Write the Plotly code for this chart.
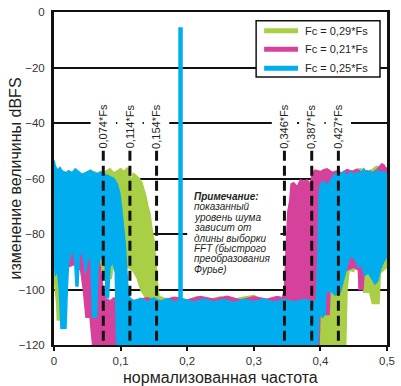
import plotly.graph_objects as go

# ---------------- data ----------------
series_names = ["Fc = 0,29*Fs", "Fc = 0,21*Fs", "Fc = 0,25*Fs"]
series_colors = ["#A8CF45", "#D6429B", "#00AEEF"]

# green (Fc = 0.29*Fs): upper / lower envelope of the noise spectrum, dBFS
green_top_x = [0.000, 0.004, 0.010, 0.020, 0.030, 0.040, 0.050, 0.060, 0.070, 0.078, 0.084, 0.090, 0.096, 0.100, 0.105, 0.110, 0.114, 0.116, 0.119, 0.124, 0.128, 0.132, 0.135, 0.138, 0.141, 0.144, 0.147, 0.150, 0.153, 0.156, 0.158, 0.170, 0.185, 0.200, 0.215, 0.230, 0.250, 0.265, 0.280, 0.300, 0.315, 0.330, 0.350, 0.370, 0.390, 0.405, 0.420, 0.432, 0.435, 0.437, 0.439, 0.443, 0.450, 0.460, 0.470, 0.478, 0.484, 0.490, 0.495, 0.500]
green_top = [-56, -57.5, -57, -58, -57.5, -58.5, -58, -57.5, -58.5, -57.5, -56.5, -58, -57.2, -56.5, -57.5, -56.2, -56.8, -62, -58, -59, -60, -61.5, -64, -66.5, -70, -72.5, -78, -82, -90, -100, -102.5, -103.5, -102.8, -104, -102.5, -103.8, -102.6, -104, -103, -102.2, -104, -103, -103.5, -102.8, -103.5, -102, -101.5, -100.5, -95, -80, -62, -57.5, -57, -56.5, -57.5, -56.8, -55.6, -55.8, -57, -56]
green_bot_x = [0.000, 0.004, 0.005, 0.010, 0.011, 0.016, 0.030, 0.050, 0.070, 0.078, 0.086, 0.090, 0.100, 0.110, 0.118, 0.125, 0.130, 0.140, 0.150, 0.155, 0.438, 0.440, 0.443, 0.450, 0.455, 0.462, 0.465, 0.474, 0.478, 0.488, 0.490, 0.500]
green_bot = [-95, -105, -111, -111, -95, -90, -88, -90, -92, -96, -96, -90, -88, -92, -93, -96, -100, -104, -110, -120, -120, -100, -93, -93.5, -89, -90, -101, -101, -105, -105, -94, -92]

# magenta (Fc = 0.21*Fs)
magenta_top_x = [0.000, 0.004, 0.007, 0.012, 0.020, 0.025, 0.030, 0.040, 0.050, 0.055, 0.058, 0.062, 0.066, 0.070, 0.074, 0.078, 0.085, 0.090, 0.095, 0.100, 0.105, 0.110, 0.120, 0.140, 0.160, 0.180, 0.200, 0.220, 0.240, 0.260, 0.280, 0.300, 0.320, 0.335, 0.343, 0.346, 0.349, 0.351, 0.354, 0.356, 0.360, 0.365, 0.370, 0.375, 0.380, 0.385, 0.388, 0.392, 0.400, 0.405, 0.410, 0.418, 0.425, 0.432, 0.440, 0.448, 0.455, 0.462, 0.470, 0.478, 0.486, 0.492, 0.495, 0.500]
magenta_top = [-57, -57.5, -58.5, -58, -59, -58.3, -59.5, -59, -60, -62, -66, -74, -86, -93, -100, -103.5, -104, -103, -104.5, -103.5, -105, -103, -104, -103, -104.2, -102.8, -103.8, -102.5, -103.5, -102.4, -103.8, -102.6, -103.5, -102.5, -103, -100, -80, -72, -68, -62, -61.5, -63, -60.5, -61, -60.5, -62, -58, -57, -57.5, -56.8, -56.5, -57.8, -57.2, -58, -56.8, -57.5, -56.6, -57.8, -57.2, -58, -56.5, -54.7, -55, -57]
magenta_bot_x = [0.000, 0.003, 0.006, 0.010, 0.020, 0.030, 0.040, 0.044, 0.048, 0.054, 0.058, 0.398, 0.400, 0.405, 0.407, 0.413, 0.415, 0.430, 0.450, 0.457, 0.458, 0.464, 0.466, 0.480, 0.500]
magenta_bot = [-90, -93, -88, -90, -92, -91, -93, -100, -110, -110, -120, -120, -104, -100, -109, -109, -98, -94, -92, -93, -100, -100, -92, -90, -88]

# blue (Fc = 0.25*Fs)
blue_top_x = [0.000, 0.002, 0.005, 0.009, 0.013, 0.018, 0.022, 0.027, 0.032, 0.037, 0.042, 0.048, 0.055, 0.060, 0.065, 0.070, 0.075, 0.080, 0.085, 0.090, 0.095, 0.099, 0.102, 0.107, 0.111, 0.114, 0.120, 0.130, 0.140, 0.150, 0.160, 0.170, 0.180, 0.195, 0.210, 0.225, 0.240, 0.255, 0.270, 0.285, 0.300, 0.315, 0.330, 0.345, 0.360, 0.375, 0.390, 0.394, 0.396, 0.398, 0.400, 0.405, 0.410, 0.415, 0.420, 0.425, 0.430, 0.435, 0.440, 0.445, 0.450, 0.455, 0.460, 0.465, 0.470, 0.475, 0.480, 0.485, 0.490, 0.495, 0.500]
blue_top = [-53.5, -55.5, -57, -56, -57.5, -58, -57.2, -58, -56.5, -57.5, -58.5, -57.8, -57, -58, -58.3, -57.5, -58.5, -58.8, -59.5, -60, -62, -65.5, -71.7, -83.6, -99.5, -103, -104.2, -103.2, -104.5, -103, -104.3, -103.3, -104.5, -103.5, -104.6, -103.4, -104.5, -103.6, -104.8, -103.5, -104.4, -103.4, -104.6, -103.5, -104.5, -103.6, -104.2, -104, -90, -66, -62, -61, -62.5, -60.5, -59, -58, -58.5, -57.5, -59, -57.5, -58.5, -57.8, -58.2, -56.5, -58, -57.3, -58.5, -57, -58, -57.5, -58.5]
blue_bot_x = [0.000, 0.002, 0.005, 0.008, 0.0105, 0.018, 0.020, 0.022, 0.025, 0.028, 0.031, 0.033, 0.036, 0.038, 0.042, 0.045, 0.047, 0.050, 0.055, 0.057, 0.058, 0.064, 0.066, 0.070, 0.074, 0.077, 0.078, 0.082, 0.084, 0.088, 0.092, 0.094, 0.396, 0.398, 0.403, 0.407, 0.408, 0.415, 0.422, 0.430, 0.436, 0.440, 0.444, 0.452, 0.457, 0.462, 0.466, 0.472, 0.477, 0.482, 0.486, 0.490, 0.495, 0.500]
blue_bot = [-88, -95, -93, -100, -114, -114, -100, -90, -88, -85, -90, -98.7, -98.7, -88, -86, -90, -94, -90, -87, -100, -110, -110, -92, -88, -90, -92, -103, -103, -92, -90, -94, -120, -120, -108, -110, -109, -101, -100.5, -102, -101, -96, -92, -88, -89, -92, -91, -95, -94, -96, -98, -97, -93, -90, -88]

# test tone of the blue series
tone_freq = [0.19]
tone_level = [-5.5]
floor_level = -104

# marked frequencies
marker_freqs = [0.074, 0.114, 0.154, 0.346, 0.387, 0.427]
marker_labels = ["0,074*Fs", "0,114*Fs", "0,154*Fs", "0,346*Fs", "0,387*Fs", "0,427*Fs"]

note_lines = ["<b><i>Примечание:</i></b>", "<i>показанный</i>", "<i>уровень шума</i>",
              "<i>зависит от</i>", "<i>длины выборки</i>", "<i>FFT (быстрого</i>",
              "<i>преобразования</i>", "<i>Фурье)</i>"]

x_ticks = [0, 0.1, 0.2, 0.3, 0.4, 0.5]
y_ticks = [0, -20, -40, -60, -80, -100, -120]

x_title = "нормализованная частота"
y_title = "изменение величины dBFS"

# ---------------- figure ----------------
TEXT = "#231F20"
FONT = "Liberation Sans, Arial, sans-serif"

fig = go.Figure()

envelopes = [
    (green_top_x, green_top, green_bot_x, green_bot),
    (magenta_top_x, magenta_top, magenta_bot_x, magenta_bot),
    (blue_top_x, blue_top, blue_bot_x, blue_bot),
]
for (tx, ty, bx, by), col, name in zip(envelopes, series_colors, series_names):
    fig.add_trace(go.Scatter(
        x=list(tx) + list(bx)[::-1], y=list(ty) + list(by)[::-1],
        mode="lines", fill="toself", fillcolor=col, name=name,
        line=dict(color=col, width=1.5, shape="linear"),
        showlegend=False, hoverinfo="skip"))

# tone spike
for f, lvl in zip(tone_freq, tone_level):
    fig.add_trace(go.Scatter(x=[f, f], y=[floor_level, lvl], mode="lines",
                             line=dict(color=series_colors[2], width=4.5),
                             showlegend=False, hoverinfo="skip"))

shapes = []
annotations = []

# white backgrounds behind marker labels and the note (cover gridlines)
for f in marker_freqs:
    shapes.append(dict(type="rect", xref="x", yref="y", x0=f - 0.019, x1=f + 0.019,
                       y0=-36, y1=-46, fillcolor="white", line=dict(width=0), layer="between"))
shapes.append(dict(type="rect", xref="x", yref="y", x0=0.2, x1=0.34, y0=-62.5, y1=-98,
                   fillcolor="white", line=dict(width=0), layer="between"))
# dashed marker lines
for f in marker_freqs:
    shapes.append(dict(type="line", xref="x", yref="y", x0=f, x1=f, y0=-50, y1=-120,
                       line=dict(color="#111111", width=3, dash="10px,5px"), layer="above"))

# legend box (drawn in paper coordinates)
LEG_X0, LEG_X1, LEG_Y0, LEG_Y1 = 0.607, 0.979, 0.805, 0.974
LINE_X0, LINE_X1, TEXT_X = 0.631, 0.733, 0.748
ROW_Y = [0.944, 0.888, 0.831]
shapes.append(dict(type="rect", xref="paper", yref="paper", x0=LEG_X0, x1=LEG_X1, y0=LEG_Y0, y1=LEG_Y1,
                   fillcolor="white", line=dict(color="#111111", width=1.5), layer="above"))
for name, col, ry in zip(series_names, series_colors, ROW_Y):
    shapes.append(dict(type="line", xref="paper", yref="paper", x0=LINE_X0, x1=LINE_X1, y0=ry, y1=ry,
                       line=dict(color=col, width=5), layer="above"))
    annotations.append(dict(x=TEXT_X, y=ry, xref="paper", yref="paper", text=name, showarrow=False,
                            xanchor="left", yanchor="middle",
                            font=dict(family=FONT, size=11, color=TEXT)))

for f, lab in zip(marker_freqs, marker_labels):
    annotations.append(dict(x=f, y=-41.2, xref="x", yref="y", text=lab, showarrow=False,
                            textangle=-90, font=dict(family=FONT, size=11, color=TEXT),
                            xanchor="center", yanchor="middle"))
for i, line in enumerate(note_lines):
    annotations.append(dict(x=0.207, y=-66.5, xref="x", yref="y", text=line, showarrow=False,
                            xanchor="left", yanchor="middle", yshift=-10.4 * i,
                            font=dict(family=FONT, size=10, color=TEXT)))
# axis titles
annotations.append(dict(x=0.5, y=0, xref="paper", yref="paper", yshift=-32, text=x_title,
                        showarrow=False, xanchor="center", yanchor="middle",
                        font=dict(family=FONT, size=16, color=TEXT)))
annotations.append(dict(x=0, y=0.5, xref="paper", yref="paper", xshift=-39, text=y_title,
                        showarrow=False, textangle=-90, xanchor="center", yanchor="middle",
                        font=dict(family=FONT, size=16, color=TEXT)))

fig.update_layout(
    width=401, height=386,
    margin=dict(l=54, r=14, t=12, b=41, autoexpand=False),
    paper_bgcolor="white", plot_bgcolor="white",
    separators=", ",
    font=dict(family=FONT, color=TEXT),
    shapes=shapes, annotations=annotations,
    showlegend=False,
)
fig.update_xaxes(
    range=[0, 0.5], tickvals=x_ticks, showgrid=False, zeroline=False, automargin=False,
    showline=True, linecolor="#111111", linewidth=2, mirror=True,
    ticks="outside", ticklen=4, tickwidth=2, tickcolor="#111111",
    tickfont=dict(family=FONT, size=11.5, color="#333333"),
)
fig.update_yaxes(
    range=[-120, 0], tickvals=y_ticks, showgrid=True, gridcolor="#111111", gridwidth=2,
    zeroline=False, showline=True, linecolor="#111111", linewidth=3, mirror=True, automargin=False,
    ticks="outside", ticklen=4, tickcolor="rgba(0,0,0,0)",
    tickfont=dict(family=FONT, size=11.5, color="#333333"),
)

fig.write_html("out.html", config={"displayModeBar": False},
               post_script="document.body.style.margin='0';document.body.style.padding='0';")
